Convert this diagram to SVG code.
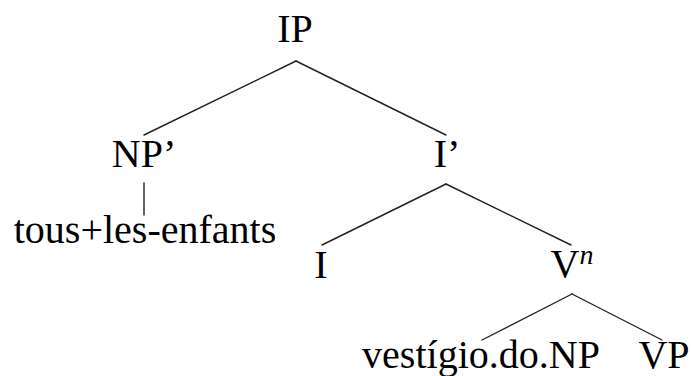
<svg xmlns="http://www.w3.org/2000/svg" width="691" height="376" viewBox="0 0 691 376">
<rect width="691" height="376" fill="#fff"/>
<g id="connectors" stroke="#222" stroke-width="1.4" stroke-linecap="round">
<line x1="296" y1="61" x2="144" y2="135"/>
<line x1="296" y1="61" x2="446" y2="135"/>
<line x1="144" y1="183" x2="144" y2="215"/>
<line x1="446" y1="184" x2="322" y2="245"/>
<line x1="446" y1="184" x2="571" y2="245"/>
<line x1="572" y1="294" x2="482" y2="340"/>
<line x1="572" y1="294" x2="662" y2="340"/>
</g>
<g id="IP"><text x="295" y="42" font-family="Times New Roman" font-size="40" text-anchor="middle" style="font-family:'Liberation Serif','Times New Roman',serif">IP</text></g>
<g id="NPbar"><text x="144" y="167" font-family="Times New Roman" font-size="40" text-anchor="middle" style="font-family:'Liberation Serif','Times New Roman',serif">NP’</text></g>
<g id="Ibar"><text x="447" y="167" font-family="Times New Roman" font-size="40" text-anchor="middle" style="font-family:'Liberation Serif','Times New Roman',serif">I’</text></g>
<g id="tous"><text x="145" y="243" font-family="Times New Roman" font-size="40" text-anchor="middle" style="font-family:'Liberation Serif','Times New Roman',serif">tous+les-enfants</text></g>
<g id="I"><text x="321" y="278" font-family="Times New Roman" font-size="40" text-anchor="middle" style="font-family:'Liberation Serif','Times New Roman',serif">I</text></g>
<g id="Vn"><text x="572" y="277" font-family="Times New Roman" font-size="40" text-anchor="middle" style="font-family:'Liberation Serif','Times New Roman',serif">V<tspan font-size="28" font-style="italic" dy="-13">n</tspan></text></g>
<g id="vestigio"><text x="481" y="368" font-family="Times New Roman" font-size="40" text-anchor="middle" style="font-family:'Liberation Serif','Times New Roman',serif">vestígio.do.NP</text></g>
<g id="VP"><text x="664" y="368" font-family="Times New Roman" font-size="40" text-anchor="middle" style="font-family:'Liberation Serif','Times New Roman',serif">VP</text></g>
</svg>
